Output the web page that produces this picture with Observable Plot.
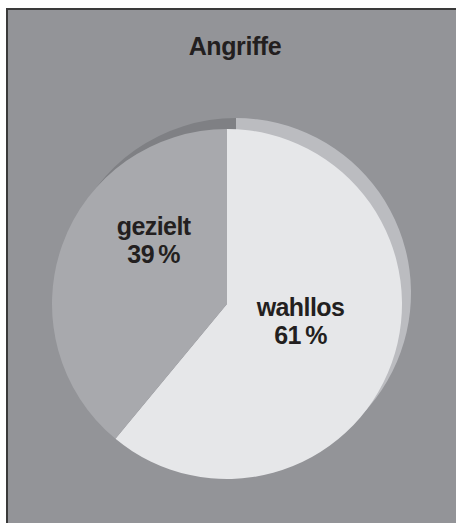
<!DOCTYPE html>
<html><head><meta charset="utf-8">
<script src="https://cdn.jsdelivr.net/npm/d3@7"></script>
<script src="https://cdn.jsdelivr.net/npm/@observablehq/plot@0.6"></script>
<style>
html,body{margin:0;padding:0;background:#fff;}
#frame{position:absolute;left:6px;top:8px;width:450px;height:515px;background:#939498;border-left:2px solid #3a3a3a;border-top:2px solid #3a3a3a;box-sizing:border-box;font-family:"Liberation Sans",Arial,sans-serif;}
#title{position:absolute;left:0;top:21px;width:454px;text-align:center;font-weight:bold;font-size:25px;color:#231f20;line-height:30px;letter-spacing:-0.4px;}
#chart{position:absolute;left:0;top:62px;}
#chart text{letter-spacing:-0.6px;}
</style></head>
<body>
<div id="frame"><div id="title">Angriffe</div><div id="chart"></div></div>
<script>
const categories = ["wahllos", "gezielt"];
const values = [61, 39];
const frontColors = ["#e6e7e9", "#a8a9ad"];
const backColors = ["#bbbcc0", "#7f8084"];

const data = categories.map((c, i) => ({label: c, value: values[i], front: frontColors[i], back: backColors[i]}));
// label anchor positions in unit-circle coordinates (layout only)
const labelPos = {wahllos: [0.417, 0.097], gezielt: [-0.422, -0.366]};

function pieMark(colorKey, dx, dy) {
  return (index, scales) => {
    const cx = scales.x(0), cy = scales.y(0);
    const r = scales.x(1) - scales.x(0);
    const arcs = d3.pie().sort(null).value(d => d.value)(data);
    const arc = d3.arc().innerRadius(0).outerRadius(r);
    const g = d3.create("svg:g").attr("transform", `translate(${cx + dx},${cy + dy})`);
    g.selectAll("path").data(arcs).join("path")
      .attr("d", arc)
      .attr("fill", d => d.data[colorKey]);
    return g.node();
  };
}

const chart = Plot.plot({
  width: 448,
  height: 441,
  margin: 0,
  x: {domain: [-1, 1], range: [44, 394], axis: null},
  y: {domain: [-1, 1], range: [57, 407], axis: null},
  style: {background: "transparent", fontFamily: "Liberation Sans, Arial, sans-serif", overflow: "visible"},
  marks: [
    pieMark("back", 9, -11),
    pieMark("front", 0, 0),
    Plot.text(data, {
      x: d => labelPos[d.label][0],
      y: d => labelPos[d.label][1],
      text: d => `${d.label}\n${d.value}\u2009%`,
      fontSize: 25,
      fontWeight: "bold",
      fill: "#231f20",
      lineHeight: 1.12,
      lineAnchor: "middle"
    })
  ]
});
document.getElementById("chart").appendChild(chart);
</script>
</body></html>
